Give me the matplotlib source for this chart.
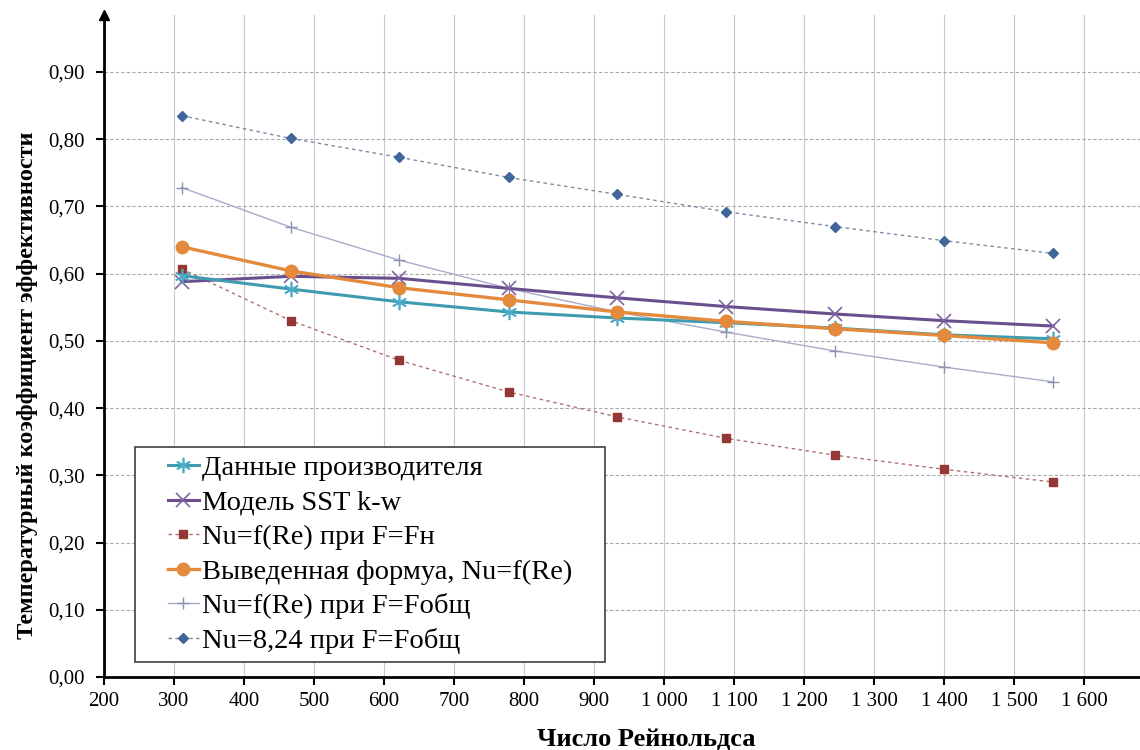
"""
Temperature efficiency coefficient vs Reynolds number
"""

import matplotlib
matplotlib.use('Agg')
import matplotlib.pyplot as plt
from matplotlib.lines import Line2D
from matplotlib.legend_handler import HandlerLine2D
from matplotlib.ticker import FuncFormatter, MultipleLocator

plt.rcParams['font.family'] = ['Liberation Serif', 'DejaVu Serif']

# Reynolds numbers of the computed points
re_values = [311, 467, 622, 778, 933, 1089, 1244, 1400, 1556]

# series
manufacturer = [0.597, 0.577, 0.558, 0.543, 0.534, 0.527, 0.519, 0.509, 0.503]
sst_model = [0.588, 0.596, 0.593, 0.578, 0.564, 0.551, 0.540, 0.530, 0.522]
nu_fn = [0.607, 0.530, 0.471, 0.424, 0.387, 0.355, 0.330, 0.309, 0.290]
derived = [0.640, 0.604, 0.579, 0.561, 0.543, 0.529, 0.518, 0.508, 0.497]
nu_ftotal = [0.728, 0.669, 0.620, 0.578, 0.543, 0.513, 0.485, 0.461, 0.439]
nu_824 = [0.835, 0.801, 0.773, 0.743, 0.718, 0.692, 0.670, 0.649, 0.630]

labels = ['Данные производителя', 'Модель SST k-w', 'Nu=f(Re) при F=Fн',
          'Выведенная формуа, Nu=f(Re)', 'Nu=f(Re) при F=Fобщ', 'Nu=8,24 при F=Fобщ']

fig = plt.figure(figsize=(11.4, 7.5), dpi=100)
ax = fig.add_axes([0.0912, 0.0973, 0.9088, 0.883])

# series, in legend order
ax.plot(re_values, manufacturer, color='#3f9cb0', lw=2.2, marker=(6, 2, 0),
        ms=11, mec='#4bacc6', mew=1.2, label=labels[0], zorder=5)
ax.plot(re_values, sst_model, color='#6a4f8f', lw=2.2, marker='x',
        ms=10, mec='#8064a2', mew=1.2, label=labels[1], zorder=4)
ax.plot(re_values, nu_fn, color='#b07070', lw=1.0, ls=(0, (2.5, 2.5)), marker='s',
        ms=5.5, mfc='#953735', mec='#953735', label=labels[2], zorder=3)
ax.plot(re_values, derived, color='#e38a3c', lw=2.4, marker='o',
        ms=9, mfc='#e38a3c', mec='#e38a3c', label=labels[3], zorder=6)
ax.plot(re_values, nu_ftotal, color='#a6adc8', lw=1.0, marker='+',
        ms=9, mec='#8c93ae', mew=1.0, label=labels[4], zorder=2)
ax.plot(re_values, nu_824, color='#7d8aa0', lw=1.0, ls=(0, (2.5, 2.5)), marker='D',
        ms=5, mfc='#41679a', mec='#41679a', label=labels[5], zorder=3)

ax.set_xlim(200, 1680)
ax.set_ylim(0, 0.985)
ax.xaxis.set_major_locator(MultipleLocator(100))
ax.set_yticks([t / 10 for t in range(10)])

def fmt_x(v, pos):
    return f'{int(round(v)):,}'.replace(',', ' ')

def fmt_y(v, pos):
    return f'{v:.2f}'.replace('.', ',')

ax.xaxis.set_major_formatter(FuncFormatter(fmt_x))
ax.yaxis.set_major_formatter(FuncFormatter(fmt_y))

# grid: dashed horizontal, solid vertical
ax.grid(axis='y', color='#a8a8a8', ls=(0, (3, 2)), lw=0.8)
ax.grid(axis='x', color='#c8c8c8', ls='-', lw=0.8)
ax.set_axisbelow(True)

for side in ['top', 'right']:
    ax.spines[side].set_visible(False)
ax.spines['left'].set_linewidth(2)
ax.spines['bottom'].set_linewidth(2)
ax.tick_params(axis='both', direction='out', length=6, width=1.5,
               labelsize=15, colors='black')
ax.tick_params(axis='x', pad=5)
ax.tick_params(axis='y', pad=8)

# arrow on top of the y axis
ax.plot(0, 1, marker='^', color='black', ms=7, transform=ax.transAxes, clip_on=False)

ax.set_xlabel('Число Рейнольдса', fontsize=19, fontweight='bold')
ax.xaxis.set_label_coords(0.523, -0.078)
ax.set_ylabel('Температурный коэффициент эффективности', fontsize=17.5,
              fontweight='bold')
ax.yaxis.set_label_coords(-0.064, 0.44)

leg = ax.legend(loc='lower left', bbox_to_anchor=(0.03, 0.022, 0.454, 0.3),
                mode='expand', fontsize=20.5,
                frameon=True, fancybox=False, edgecolor='#404040', framealpha=1,
                handlelength=1.95, handletextpad=0.1, borderpad=0.3,
                labelspacing=0.3, borderaxespad=0,
                handler_map={Line2D: HandlerLine2D(xpad=0.85)})
leg.get_frame().set_linewidth(1.2)

plt.savefig('out.png', dpi=100)
plt.close()
